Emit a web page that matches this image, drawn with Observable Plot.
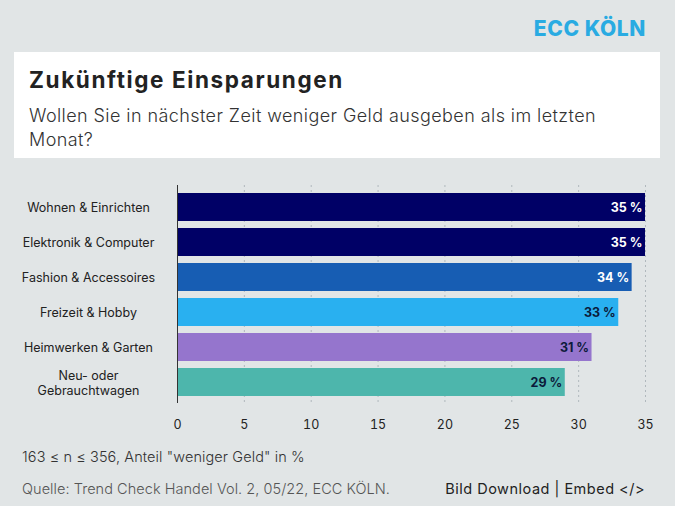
<!DOCTYPE html>
<html>
<head>
<meta charset="utf-8">
<script src="https://cdn.jsdelivr.net/npm/d3@7"></script>
<script src="https://cdn.jsdelivr.net/npm/@observablehq/plot@0.6"></script>
<style>
  html, body { margin: 0; padding: 0; }
  body { width: 675px; height: 506px; background: #e1e5e6; font-family: Inter, "Open Sans", sans-serif; position: relative; overflow: hidden; }
  .brand { position: absolute; right: 29px; top: 16px; font-size: 21px; font-weight: 800; color: #29abe2; letter-spacing: 0.6px; }
  .card { position: absolute; left: 14px; top: 52px; width: 646px; height: 106px; background: #fff; }
  .title { position: absolute; left: 15px; top: 14px; font-size: 22.5px; font-weight: 700; color: #222; letter-spacing: 1.6px; }
  .subtitle { position: absolute; left: 15px; top: 52px; font-size: 18px; font-weight: 300; color: #333; line-height: 24px; letter-spacing: 0.42px; white-space: nowrap; }
  #chart { position: absolute; left: 0; top: 170px; }
  .note { position: absolute; left: 22px; top: 448px; font-size: 14.5px; font-weight: 300; color: #333; letter-spacing: 0.1px; }
  .source { position: absolute; left: 22px; top: 480px; font-size: 14.5px; font-weight: 300; color: #555; letter-spacing: 0.05px; }
  .links { position: absolute; right: 30px; top: 480px; font-size: 14.5px; font-weight: 400; color: #222; letter-spacing: 0.5px; }
</style>
</head>
<body>
<div class="brand">ECC KÖLN</div>
<div class="card">
  <div class="title">Zukünftige Einsparungen</div>
  <div class="subtitle">Wollen Sie in nächster Zeit weniger Geld ausgeben als im letzten<br>Monat?</div>
</div>
<div id="chart"></div>
<div class="note">163 ≤ n ≤ 356, Anteil "weniger Geld" in %</div>
<div class="source">Quelle: Trend Check Handel Vol. 2, 05/22, ECC KÖLN.</div>
<div class="links">Bild Download | Embed &lt;/&gt;</div>
<script>
const categories = ["Wohnen & Einrichten", "Elektronik & Computer", "Fashion & Accessoires", "Freizeit & Hobby", "Heimwerken & Garten", "Neu- oder\nGebrauchtwagen"];
const values = [35, 35, 34, 33, 31, 29];
const colors = ["#000066", "#000066", "#175db3", "#29b0f0", "#9575cd", "#4db6ac"];
const labelColors = ["#ffffff", "#ffffff", "#ffffff", "#0b1a3a", "#0b1a3a", "#0b1a3a"];
const xTicks = [0, 5, 10, 15, 20, 25, 30, 35];

const data = categories.map((c, i) => ({category: c, value: values[i], color: colors[i], labelColor: labelColors[i]}));

const chart = Plot.plot({
  width: 675,
  height: 265,
  marginLeft: 177,
  marginRight: 30,
  marginTop: 15,
  marginBottom: 32,
  style: {background: "transparent", fontFamily: "Inter, sans-serif", fontSize: "12px", color: "#222"},
  x: {domain: [0, 35], ticks: xTicks},
  y: {domain: categories, padding: 0.2},
  marks: [
    Plot.gridX(xTicks.filter(d => d > 0), {stroke: "#b0b8bd", strokeOpacity: 1, strokeDasharray: "2,3"}),
    Plot.barX(data, {x: "value", y: "category", fill: "color"}),
    Plot.ruleX([0], {stroke: "#333", strokeWidth: 1}),
    Plot.text(data, {x: "value", y: "category", text: d => `${d.value} %`, fill: "labelColor", textAnchor: "end", dx: -3, fontWeight: 700, fontSize: 12.5}),
    Plot.axisX({ticks: xTicks, tickSize: 0, tickPadding: 17, label: null, fontSize: 12.5, fill: "#222"}),
    Plot.axisY({tickSize: 0, tickPadding: 89, textAnchor: "middle", label: null, fontSize: 12.5, fontWeight: 400, fill: "#222", lineHeight: 1.2})
  ]
});
document.getElementById("chart").appendChild(chart);
</script>
</body>
</html>
